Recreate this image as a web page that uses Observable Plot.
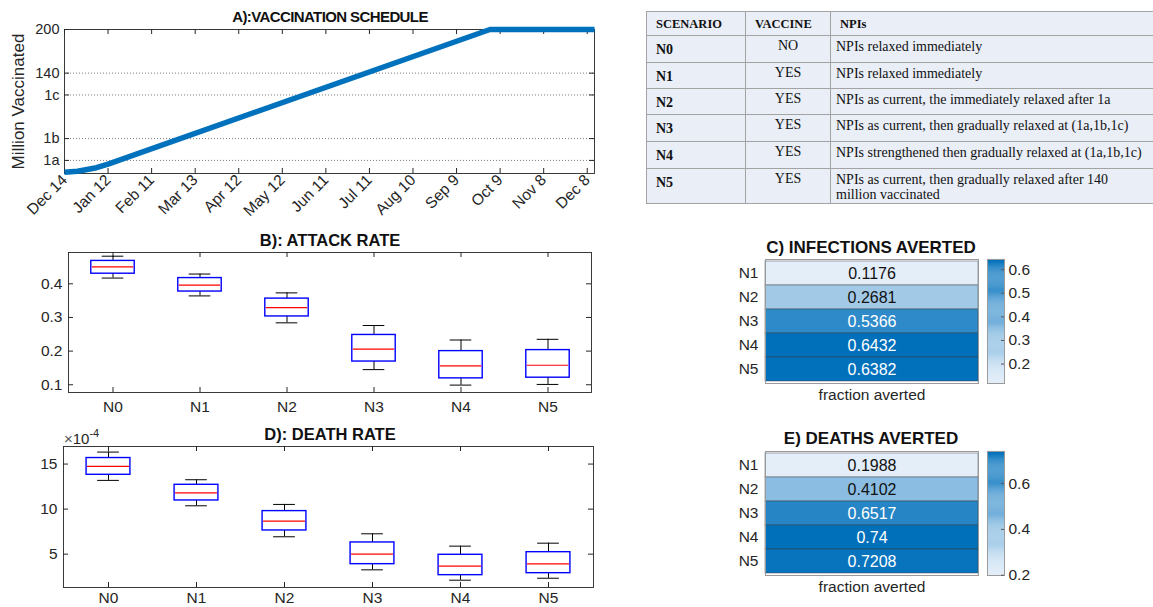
<!DOCTYPE html>
<html><head><meta charset="utf-8">
<script src="https://cdn.jsdelivr.net/npm/d3@7"></script>
<script src="https://cdn.jsdelivr.net/npm/@observablehq/plot@0.6"></script>
<style>
html,body{margin:0;padding:0;background:#fff;overflow:hidden}
#root{position:relative;width:1153px;height:607px;overflow:hidden;font-family:"Liberation Sans",Arial,sans-serif;color:#262626}
.abs{position:absolute}
.title{position:absolute;font-weight:bold;white-space:nowrap;transform:translate(-50%,-50%);line-height:1;color:#111}
table.sc{position:absolute;left:646px;top:11px;width:507px;border-collapse:collapse;background:#e9eef7;font-family:"Liberation Serif","Times New Roman",serif;color:#111;table-layout:fixed}
table.sc td{border:1px solid #a3a3a3;padding:0;vertical-align:top;font-size:14px;line-height:15px}
table.sc td.h{font-weight:bold;font-size:12.5px;padding:5px 0 0 9px}
table.sc td.s{font-weight:bold;padding:6px 0 0 9px}
table.sc td.v{text-align:center;padding:2px 0 0 0}
table.sc td.n{padding:3px 8px 0 5px}
</style></head><body><div id="root"></div>
<script>
// ---------- DATA ----------
// Panel A: vaccination schedule (days since Dec 14, million vaccinated)
const vaccDays = [0, 9, 22, 30, 293, 365];
const vaccMillions = [3.8, 5.2, 10, 15, 200, 200];
const aXTicks = [0, 30, 60, 90, 120, 150, 180, 210, 240, 270, 300, 330, 360];
const aXLabels = ["Dec 14","Jan 12","Feb 11","Mar 13","Apr 12","May 12","Jun 11","Jul 11","Aug 10","Sep 9","Oct 9","Nov 8","Dec 8"];
const aYTicks = [20, 50, 110, 140, 200];
const aYLabels = ["1a","1b","1c","140","200"];

// Scenarios
const scenarios = ["N0","N1","N2","N3","N4","N5"];

// Panel B: attack rate box plots
const attackLow  = [0.417, 0.364, 0.284, 0.145, 0.099, 0.101];
const attackQ1   = [0.430, 0.377, 0.303, 0.169, 0.119, 0.121];
const attackMed  = [0.450, 0.396, 0.329, 0.206, 0.156, 0.158];
const attackQ3   = [0.468, 0.417, 0.356, 0.248, 0.200, 0.203];
const attackHigh = [0.482, 0.429, 0.373, 0.276, 0.233, 0.235];
const attackTicks = [0.1, 0.2, 0.3, 0.4];

// Panel D: death rate box plots
const deathLow  = [13.19e-4, 10.37e-4, 6.93e-4, 3.26e-4, 2.11e-4, 2.33e-4];
const deathQ1   = [13.81e-4, 10.96e-4, 7.63e-4, 3.89e-4, 2.67e-4, 2.89e-4];
const deathMed  = [14.74e-4, 11.81e-4, 8.67e-4, 5.00e-4, 3.67e-4, 3.93e-4];
const deathQ3   = [15.67e-4, 12.70e-4, 9.78e-4, 6.30e-4, 4.93e-4, 5.22e-4];
const deathHigh = [16.33e-4, 13.26e-4, 10.52e-4, 7.26e-4, 5.89e-4, 6.22e-4];
const deathTicks = [5e-4, 10e-4, 15e-4];

// Panels C, E: heatmaps
const heatCats = ["N1","N2","N3","N4","N5"];
const infAverted = [0.1176, 0.2681, 0.5366, 0.6432, 0.6382];
const infTicks = [0.2, 0.3, 0.4, 0.5, 0.6];
const deathAverted = [0.1988, 0.4102, 0.6517, 0.74, 0.7208];
const deathAvTicks = [0.2, 0.4, 0.6];

// Table
const vaccineCol = ["NO","YES","YES","YES","YES","YES"];
const npiCol = [
  "NPIs relaxed immediately",
  "NPIs relaxed immediately",
  "NPIs as current, the immediately relaxed after 1a",
  "NPIs as current, then gradually relaxed at (1a,1b,1c)",
  "NPIs strengthened then gradually relaxed at (1a,1b,1c)",
  "NPIs as current, then gradually relaxed after 140 million vaccinated"
];

// ---------- HELPERS ----------
const root = document.getElementById("root");
const FONT = '"Liberation Sans", Arial, sans-serif';
const AX = "#262626";
function place(node, left, top) {
  const d = document.createElement("div");
  d.className = "abs"; d.style.left = left + "px"; d.style.top = top + "px";
  d.appendChild(node); root.appendChild(d); return d;
}
function title(text, cx, cy, size, ls) {
  const d = document.createElement("div");
  d.className = "title"; d.textContent = text;
  d.style.left = cx + "px"; d.style.top = cy + "px"; d.style.fontSize = size + "px";
  if (ls) d.style.letterSpacing = ls + "px";
  root.appendChild(d);
}
const baseStyle = {fontFamily: FONT, fontSize: "15px", color: AX, background: "transparent", overflow: "visible"};

// ---------- PANEL A ----------
{
  const W = 610, H = 230, ML = 64, MR = 16, MT = 29, MB = 57;
  const iw = W - ML - MR, ih = H - MT - MB;
  const pts = vaccDays.map((d, i) => ({day: d, v: vaccMillions[i]}));
  const xMap = new Map(aXTicks.map((d, i) => [d, aXLabels[i]]));
  const yMap = new Map(aYTicks.map((d, i) => [d, aYLabels[i]]));
  const p = Plot.plot({
    width: W, height: H, marginLeft: ML, marginRight: MR, marginTop: MT, marginBottom: MB,
    style: baseStyle,
    x: {domain: [0, 365]}, y: {domain: [2, 200]},
    marks: [
      Plot.gridY(aYTicks, {stroke: AX, strokeOpacity: 0.6, strokeDasharray: "1,2"}),
      Plot.frame({stroke: AX, strokeWidth: 0.9}),
      Plot.tickX(aXTicks, {x: d => d, insetTop: ih - 5, stroke: AX}),
      Plot.tickX(aXTicks, {x: d => d, insetBottom: ih - 5, stroke: AX}),
      Plot.tickY(aYTicks, {y: d => d, insetRight: iw - 5, stroke: AX}),
      Plot.tickY(aYTicks, {y: d => d, insetLeft: iw - 5, stroke: AX}),
      Plot.line(pts, {x: "day", y: "v", stroke: "#0072BD", strokeWidth: 5.5, strokeLinecap: "butt"}),
      Plot.axisX(aXTicks, {tickFormat: d => xMap.get(d), tickRotate: -45, tickSize: 0, tickPadding: 4, label: null, fontSize: 15.5}),
      Plot.axisY(aYTicks, {tickFormat: d => yMap.get(d), tickSize: 0, tickPadding: 5, label: null, fontSize: 14.5}),
      Plot.text(["Million Vaccinated"], {text: d => d, frameAnchor: "left", dx: -46, rotate: -90, textAnchor: "middle", fontSize: 17})
    ]
  });
  place(p, 0, 0);
  title("A):VACCINATION SCHEDULE", 330, 16, 15, -0.6);
}

// ---------- BOX PANELS ----------
function boxPanel({W, H, ML, MR, MT, MB, domain, ticks, fmt, low, q1, med, q3, high, pad}) {
  const iw = W - ML - MR, ih = H - MT - MB;
  const band = iw / scenarios.length;
  const boxInset = band * 0.25, capInset = band * 0.375;
  const rows = scenarios.map((c, i) => ({c, low: low[i], q1: q1[i], med: med[i], q3: q3[i], high: high[i]}));
  return Plot.plot({
    width: W, height: H, marginLeft: ML, marginRight: MR, marginTop: MT, marginBottom: MB,
    style: baseStyle,
    x: {type: "band", domain: scenarios, padding: 0},
    y: {domain},
    marks: [
      Plot.frame({stroke: AX, strokeWidth: 0.9}),
      Plot.tickX(scenarios, {x: d => d, insetTop: ih - 5, stroke: AX}),
      Plot.tickX(scenarios, {x: d => d, insetBottom: ih - 5, stroke: AX}),
      Plot.tickY(ticks, {y: d => d, insetRight: iw - 5, stroke: AX}),
      Plot.tickY(ticks, {y: d => d, insetLeft: iw - 5, stroke: AX}),
      Plot.ruleX(rows, {x: "c", y1: "q3", y2: "high", stroke: "#000", strokeWidth: 1}),
      Plot.ruleX(rows, {x: "c", y1: "low", y2: "q1", stroke: "#000", strokeWidth: 1}),
      Plot.tickY(rows, {x: "c", y: "high", insetLeft: capInset, insetRight: capInset, stroke: "#000", strokeWidth: 1}),
      Plot.tickY(rows, {x: "c", y: "low", insetLeft: capInset, insetRight: capInset, stroke: "#000", strokeWidth: 1}),
      Plot.barY(rows, {x: "c", y1: "q1", y2: "q3", insetLeft: boxInset, insetRight: boxInset, fill: "none", stroke: "#0000FF", strokeWidth: 1.4}),
      Plot.tickY(rows, {x: "c", y: "med", insetLeft: boxInset + 1, insetRight: boxInset + 1, stroke: "#FF0000", strokeWidth: 1.2}),
      Plot.axisX(scenarios, {tickSize: 0, tickPadding: pad, label: null, fontSize: 15.5}),
      Plot.axisY(ticks, {tickFormat: fmt, tickSize: 0, tickPadding: 6, label: null, fontSize: 15.5})
    ]
  });
}
place(boxPanel({W: 610, H: 200, ML: 68, MR: 19, MT: 22, MB: 38, domain: [0.077, 0.493], ticks: attackTicks,
  fmt: d => d.toFixed(1), low: attackLow, q1: attackQ1, med: attackMed, q3: attackQ3, high: attackHigh, pad: 8}), 0, 230);
title("B): ATTACK RATE", 330, 240, 16.5);

place(boxPanel({W: 610, H: 177, ML: 63, MR: 17, MT: 16, MB: 20, domain: [1.3e-4, 16.95e-4], ticks: deathTicks,
  fmt: d => String(Math.round(d * 1e4)), low: deathLow, q1: deathQ1, med: deathMed, q3: deathQ3, high: deathHigh, pad: 4}), 0, 430);
title("D): DEATH RATE", 330, 434, 16.5);
{
  const d = document.createElement("div");
  d.className = "abs";
  d.style.left = "64px"; d.style.top = "429px"; d.style.fontSize = "15px"; d.style.lineHeight = "1"; d.style.color = AX;
  d.innerHTML = '<span style="color:#555">×</span>10<sup style="font-size:11px;position:relative;top:-1px">-4</sup>';
  root.appendChild(d);
}

// ---------- HEATMAPS ----------
const LIGHT = "#e3eef9", DARK = "#0070bb";
function heatPanel(values, ticks, left, top, MT, MB) {
  const min = d3.min(values), max = d3.max(values);
  const rows = heatCats.map((c, i) => ({c, v: values[i]}));
  const color = {type: "linear", domain: [min, max], range: [LIGHT, DARK]};
  const H = MT + 124 + MB;
  const p = Plot.plot({
    width: 290, height: H, marginLeft: 75, marginRight: 2, marginTop: MT, marginBottom: MB,
    style: baseStyle,
    y: {type: "band", domain: heatCats, padding: 0},
    color,
    marks: [
      Plot.cell(rows, {y: "c", fill: "v", stroke: "#3a3a3a", strokeOpacity: 0.45, strokeWidth: 1}),
      Plot.frame({stroke: "#9a9a9a"}),
      Plot.text(rows, {y: "c", text: d => String(d.v), frameAnchor: "middle", fontSize: 16,
        fill: d => (d.v - min) / (max - min) > 0.5 ? "#ffffff" : "#111111"}),
      Plot.axisY(heatCats, {tickSize: 0, tickPadding: 7, label: null, fontSize: 15.5}),
      Plot.text(["fraction averted"], {text: d => d, frameAnchor: "bottom", dy: 16, fontSize: 15.5})
    ]
  });
  place(p, left, top);
  const step = (max - min) / 120;
  const steps = d3.range(120).map(i => min + i * step);
  const cb = Plot.plot({
    width: 64, height: H, marginLeft: 7, marginRight: 40, marginTop: MT, marginBottom: MB,
    style: baseStyle,
    y: {domain: [min, max]},
    color,
    marks: [
      Plot.barY(steps, {y1: d => d, y2: d => d + step * 1.05, fill: d => d}),
      Plot.frame({stroke: "#9a9a9a"}),
      Plot.tickY(ticks, {y: d => d, insetLeft: 14, stroke: "#555"}),
      Plot.axisY(ticks, {anchor: "right", tickFormat: d => d.toFixed(1), tickSize: 0, tickPadding: 4, label: null, fontSize: 15.5})
    ]
  });
  place(cb, left + 290, top);
}
heatPanel(infAverted, infTicks, 690, 230, 29, 27);
title("C) INFECTIONS AVERTED", 871, 247, 17);
heatPanel(deathAverted, deathAvTicks, 690, 425, 26, 32);
title("E) DEATHS AVERTED", 871, 438, 17);

// ---------- TABLE ----------
{
  const t = document.createElement("table");
  t.className = "sc";
  const cg = document.createElement("colgroup");
  [99, 85, 323].forEach(w => { const c = document.createElement("col"); c.style.width = w + "px"; cg.appendChild(c); });
  t.appendChild(cg);
  const hr = t.insertRow(); hr.style.height = "24px";
  [["SCENARIO","h"],["VACCINE","h"],["NPIs","h"]].forEach(([s, cls]) => { const c = hr.insertCell(); c.className = cls; c.textContent = s; });
  const heights = [27, 26, 26, 27, 27, 35];
  scenarios.forEach((s, i) => {
    const r = t.insertRow(); r.style.height = heights[i] + "px";
    const a = r.insertCell(); a.className = "s"; a.textContent = s;
    const b = r.insertCell(); b.className = "v"; b.textContent = vaccineCol[i];
    const c = r.insertCell(); c.className = "n"; c.textContent = npiCol[i];
  });
  root.appendChild(t);
}
</script></body></html>
